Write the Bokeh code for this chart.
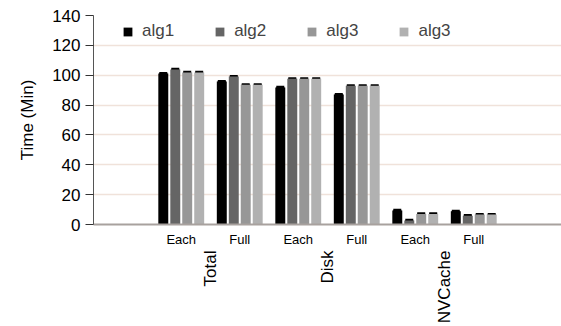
import math
from bokeh.plotting import figure
from bokeh.models import FactorRange, Whisker, ColumnDataSource, Legend, LegendItem, FixedTicker
from bokeh.transform import dodge
from bokeh.embed import file_html
from bokeh.resources import INLINE

groups = ["Total", "Total", "Disk", "Disk", "NVCache", "NVCache"]
modes = ["Each", "Full", "Each", "Full", "Each", "Full"]
series_names = ["alg1", "alg2", "alg3", "alg3"]
alg1 = [101.1, 95.8, 91.8, 87.1, 9.4, 8.8]
alg2 = [103.9, 99.1, 97.6, 92.9, 2.7, 5.9]
alg3 = [101.9, 93.6, 97.6, 92.9, 7.1, 6.7]
alg4 = [101.9, 93.6, 97.6, 92.9, 7.1, 6.7]
err = [0.4, 0.4, 0.4, 0.4, 0.4, 0.4]
colors = ["#000000", "#656565", "#979797", "#b1b1b1"]
offsets = [-0.307, -0.102, 0.102, 0.307]

factors = list(zip(groups, modes))
xr = FactorRange(*factors, group_padding=0, factor_padding=0,
                 range_padding=1, range_padding_units="absolute")

p = figure(x_range=xr, y_range=(0, 140), width=561, height=326,
           output_backend="svg", toolbar_location=None,
           min_border_left=93, min_border_right=0, min_border_top=15,
           min_border_bottom=0)
p.outline_line_color = None
p.background_fill_color = "white"

items = []
for i, vals in enumerate([alg1, alg2, alg3, alg4]):
    src = ColumnDataSource(dict(x=factors, top=vals,
                                up=[v + e for v, e in zip(vals, err)],
                                lo=[v - e for v, e in zip(vals, err)]))
    r = p.vbar(x=dodge("x", offsets[i], range=xr), top="top", width=0.17,
               source=src, fill_color=colors[i], line_color=None)
    w = Whisker(base=dodge("x", offsets[i], range=xr), upper="up", lower="lo",
                source=src, line_color="black", line_width=1.5)
    w.upper_head.size = 8
    w.upper_head.line_width = 2
    w.lower_head.size = 8
    w.lower_head.line_width = 2
    p.add_layout(w)
    items.append(LegendItem(label=series_names[i], renderers=[r]))

legend = Legend(items=items, orientation="horizontal", location=(29, 183),
                glyph_width=11, glyph_height=11, label_standoff=9, spacing=40,
                label_text_font="Liberation Sans", label_text_font_size="17px",
                border_line_color=None, background_fill_alpha=0, padding=4,
                margin=0)
p.add_layout(legend, "center")

p.xgrid.grid_line_color = None
p.ygrid.grid_line_color = "#f0e2da"
p.ygrid.grid_line_width = 1.5
p.yaxis.ticker = FixedTicker(ticks=[0, 20, 40, 60, 80, 100, 120, 140])
p.yaxis.axis_label = "Time (Min)"
p.yaxis.axis_label_text_font = "Liberation Sans"
p.yaxis.axis_label_text_font_size = "17px"
p.yaxis.axis_label_text_font_style = "normal"
p.yaxis.axis_label_text_color = "black"
p.yaxis.axis_label_standoff = 12
p.yaxis.major_label_text_font = "Liberation Sans"
p.yaxis.major_label_text_font_size = "17px"
p.yaxis.major_label_text_color = "black"
p.yaxis.axis_line_color = "#555555"
p.yaxis.major_tick_line_color = "#333333"
p.yaxis.major_tick_out = 8
p.yaxis.major_tick_in = 0
p.yaxis.minor_tick_line_color = None

p.xaxis.axis_line_color = "#a8a19e"
p.xaxis.axis_line_width = 2
p.xaxis.major_tick_line_color = None
p.xaxis.minor_tick_line_color = None
p.xaxis.major_label_standoff = 1
p.xaxis.major_label_text_font = "Liberation Sans"
p.xaxis.major_label_text_font_size = "13px"
p.xaxis.major_label_text_color = "black"
p.xaxis.group_text_font = "Liberation Sans"
p.xaxis.group_text_font_size = "17px"
p.xaxis.group_text_font_style = "normal"
p.xaxis.group_text_color = "black"
p.xaxis.group_label_orientation = math.pi / 2
p.xaxis.separator_line_color = None

open("out.html", "w").write(file_html(p, INLINE))
